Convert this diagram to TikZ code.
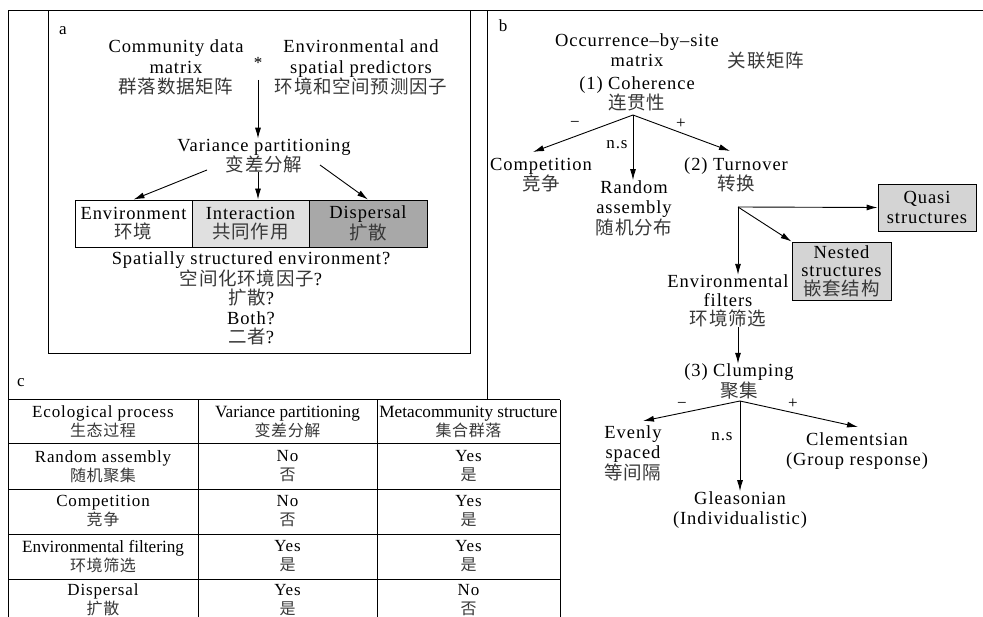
\documentclass[tikz,border=0pt]{standalone}
\usepackage{fontspec}
\setmainfont{Liberation Serif}[LetterSpace=5]
\newfontfamily\tightserif{Liberation Serif}
\newfontfamily\cjk{Noto Sans CJK SC}[LetterSpace=4]
\usetikzlibrary{arrows.meta}
\newcommand{\zh}[1]{{\cjk\color{black!78}#1}}
\newcommand{\zht}[1]{{\cjk\fontsize{16}{19}\selectfont\color{black!78}#1}}
\begin{document}
\begin{tikzpicture}[x=1pt,y=-1pt,
 txt/.style={align=center,inner sep=0pt,font=\fontsize{18.5}{20.5}\selectfont},
 lbl/.style={inner sep=0pt,font=\fontsize{17}{20}\selectfont},
 sgn/.style={inner sep=0pt,font=\fontsize{17}{20}\selectfont},
 arr/.style={draw,line width=0.9pt,-{Latex[length=11pt,width=6pt]}},
 frame/.style={line width=1pt},
 abox/.style={draw,line width=0.9pt,minimum height=47pt,align=center,inner sep=0pt,font=\fontsize{18.5}{19}\selectfont},
 gbox/.style={draw,line width=0.9pt,fill=black!17,align=center,inner sep=0pt},
 cellt/.style={align=center,inner sep=0pt,font=\fontsize{17}{19}\selectfont},
 celltight/.style={align=center,inner sep=0pt,font=\tightserif\fontsize{17.2}{19}\selectfont},
]
\useasboundingbox (0,0) rectangle (983,617);
% frames
\draw[frame] (983,11) -- (8,11) -- (8,617);
\draw[frame] (487,11) -- (487,400);
\draw[frame] (48,11) rectangle (470,354);

% ---------- panel a ----------
\node[lbl] (la) at (63,31) {a};
\node[txt] (comm) at (176,67.5) {Community data\\matrix\\\zh{群落数据矩阵}};
\node[lbl] (star) at (258,63) {*};
\node[txt] (envp) at (361,67.5) {Environmental and\\spatial predictors\\\zh{环境和空间预测因子}};
\node[txt] (varp) at (264,156) {Variance partitioning\\\zh{变差分解}};
\coordinate (a0) at (258,80);
\draw[arr] (a0) -- (a0 |- varp.north);
\node[abox,minimum width=117pt] (env) at (133.5,223.5) {Environment\\\zh{环境}};
\node[abox,minimum width=117pt,fill=black!12] (inter) at (250.5,223.5) {Interaction\\\zh{共同作用}};
\node[abox,minimum width=118pt,fill=black!34] (disp) at (368,223.5) {Dispersal\\\zh{扩散}};
\coordinate (al) at (207,170);
\coordinate (am) at (258,172);
\coordinate (ar) at (320,165);
\draw[arr] (al) -- (env.north);
\draw[arr] (am) -- (am |- inter.north);
\draw[arr] (ar) -- (disp.north);
\node[txt,font=\fontsize{18.5}{19.3}\selectfont] (spat) at (251,298.5) {Spatially structured environment?\\\zh{空间化环境因子}?\\\zh{扩散}?\\Both?\\\zh{二者}?};
\node[lbl] (lc) at (21,383) {c};

% ---------- panel b ----------
\node[lbl] (lb) at (503,26) {b};
\node[txt] (occ) at (637,50) {Occurrence–by–site\\matrix};
\node[txt] (glj) at (766,61) {\zh{关联矩阵}};
\node[txt] (coh) at (637,94) {(1) Coherence\\\zh{连贯性}};
\coordinate (b1) at (633,115);
\node[txt,font=\fontsize{18.5}{18}\selectfont] (comp) at (541,175) {Competition\\\zh{竞争}};
\node[txt] (rand) at (634,208) {Random\\assembly\\\zh{随机分布}};
\node[txt,font=\fontsize{18.5}{18}\selectfont] (turn) at (736,175) {(2) Turnover\\\zh{转换}};
\coordinate (b1l) at (533,152);
\coordinate (b1r) at (730,151);
\draw[arr] (b1) -- (b1l);
\draw[arr] (b1) -- (b1 |- rand.north);
\draw[arr] (b1) -- (b1r);
\node[sgn] (s1) at (575,124) {−};
\node[sgn] (n1) at (617,145) {n.s};
\node[sgn] (p1) at (681,124) {+};

\coordinate (b2) at (738,207);
\node[gbox,minimum width=98pt,minimum height=47pt,font=\fontsize{18.5}{20}\selectfont] (quasi) at (927,207.5) {Quasi\\structures};
\node[gbox,minimum width=99pt,minimum height=58pt,font=\fontsize{18.5}{18.5}\selectfont] (nest) at (841.5,271) {Nested\\structures\\\zh{嵌套结构}};
\node[txt,font=\fontsize{18.5}{18.8}\selectfont] (envf) at (728,301) {Environmental\\filters\\\zh{环境筛选}};
\draw[arr] (b2) -- (quasi.west);
\draw[arr] (b2) -- (nest.north west);
\draw[arr] (b2) -- (b2 |- envf.north);
\node[txt,font=\fontsize{18.5}{18}\selectfont] (clump) at (739,381.5) {(3) Clumping\\\zh{聚集}};
\draw[arr] (envf.south -| b2) -- (clump.north -| b2);

\coordinate (b3) at (740,401);
\node[txt] (even) at (633,453) {Evenly\\spaced\\\zh{等间隔}};
\node[txt] (clem) at (857,451) {Clementsian\\(Group response)};
\node[txt] (glea) at (740,510) {Gleasonian\\(Individualistic)};
\coordinate (b3l) at (643,421);
\coordinate (b3r) at (858,427);
\draw[arr] (b3) -- (b3l);
\draw[arr] (b3) -- (b3 |- glea.north);
\draw[arr] (b3) -- (b3r);
\node[sgn] (s3) at (682,405) {−};
\node[sgn] (n3) at (722,437) {n.s};
\node[sgn] (p3) at (793,404) {+};

% ---------- panel c (table) ----------
\foreach \yy in {400,444,489,534,579} \draw[frame] (8,\yy) -- (560,\yy);
\foreach \xx in {198,377,560} \draw[frame] (\xx,400) -- (\xx,617);

\node[cellt] (h1) at (103,421.5) {Ecological process\\\zht{生态过程}};
\node[celltight] (h2) at (287.5,421.5) {Variance partitioning\\\zht{变差分解}};
\node[celltight] (h3) at (468.5,421.5) {Metacommunity structure\\\zht{集合群落}};

\node[cellt] (r1a) at (103,466.5) {Random assembly\\\zht{随机聚集}};
\node[cellt] (r1b) at (287.5,466.5) {No\\\zht{否}};
\node[cellt] (r1c) at (468.5,466.5) {Yes\\\zht{是}};

\node[cellt] (r2a) at (103,511.5) {Competition\\\zht{竞争}};
\node[cellt] (r2b) at (287.5,511.5) {No\\\zht{否}};
\node[cellt] (r2c) at (468.5,511.5) {Yes\\\zht{是}};

\node[celltight] (r3a) at (103,556.5) {Environmental filtering\\\zht{环境筛选}};
\node[cellt] (r3b) at (287.5,556.5) {Yes\\\zht{是}};
\node[cellt] (r3c) at (468.5,556.5) {Yes\\\zht{是}};

\node[cellt] (r4a) at (103,600) {Dispersal\\\zht{扩散}};
\node[cellt] (r4b) at (287.5,600) {Yes\\\zht{是}};
\node[cellt] (r4c) at (468.5,600) {No\\\zht{否}};
\end{tikzpicture}
\end{document}
